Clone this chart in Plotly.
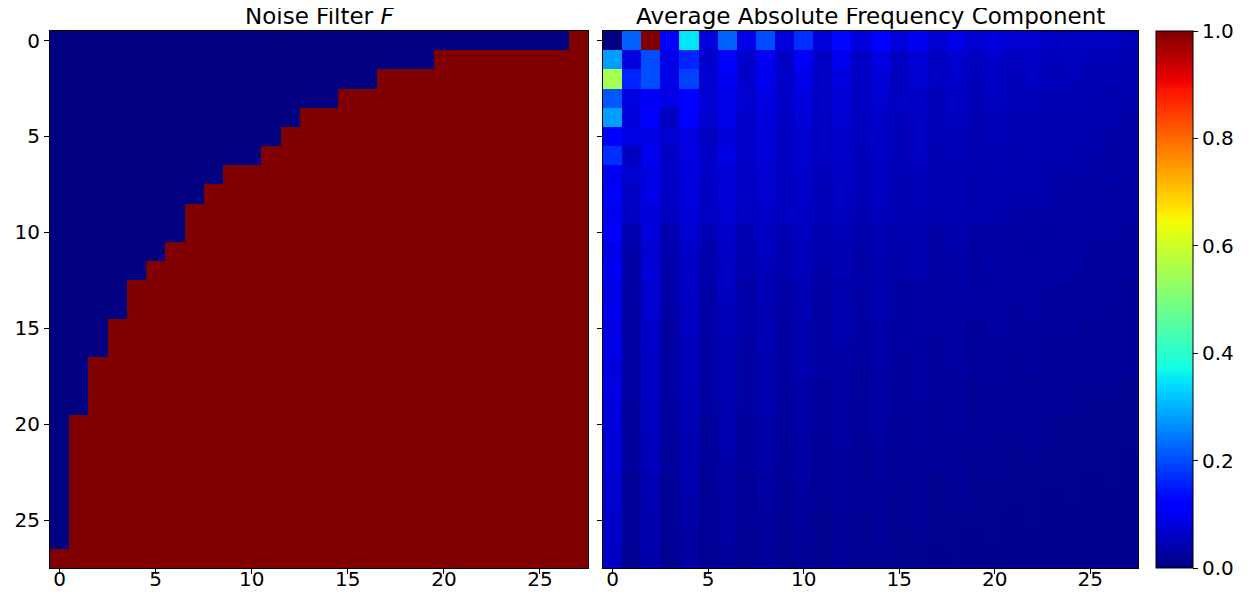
import numpy as np
import plotly.graph_objects as go

# first column where the noise filter switches to 1, one entry per row
filter_start = [27, 20, 17, 15, 13, 12, 11, 9, 8, 7, 7, 6, 5, 4,
                4, 3, 3, 2, 2, 2, 1, 1, 1, 1, 1, 1, 1, 0]

# average absolute frequency component, read row by row (28 x 28)
freq_rows = [
    [0.00, 0.22, 1.00, 0.12, 0.35, 0.08, 0.22, 0.09, 0.20, 0.08, 0.17, 0.08, 0.13, 0.08, 0.12, 0.08, 0.10, 0.07, 0.09, 0.07, 0.08, 0.07, 0.07, 0.06, 0.06, 0.06, 0.06, 0.05],
    [0.28, 0.08, 0.20, 0.09, 0.16, 0.065, 0.12, 0.065, 0.10, 0.06, 0.105, 0.06, 0.095, 0.06, 0.085, 0.06, 0.075, 0.055, 0.07, 0.055, 0.065, 0.055, 0.06, 0.05, 0.055, 0.05, 0.05, 0.045],
    [0.55, 0.16, 0.20, 0.09, 0.19, 0.07, 0.10, 0.065, 0.095, 0.065, 0.09, 0.06, 0.08, 0.06, 0.075, 0.055, 0.07, 0.055, 0.065, 0.05, 0.06, 0.05, 0.055, 0.05, 0.05, 0.045, 0.045, 0.04],
    [0.21, 0.085, 0.105, 0.085, 0.12, 0.07, 0.09, 0.07, 0.085, 0.065, 0.08, 0.06, 0.075, 0.06, 0.07, 0.055, 0.065, 0.05, 0.06, 0.05, 0.055, 0.05, 0.05, 0.045, 0.045, 0.045, 0.04, 0.04],
    [0.28, 0.08, 0.12, 0.055, 0.115, 0.07, 0.09, 0.065, 0.08, 0.06, 0.075, 0.055, 0.07, 0.055, 0.065, 0.05, 0.06, 0.05, 0.055, 0.045, 0.05, 0.045, 0.045, 0.04, 0.04, 0.04, 0.04, 0.035],
    [0.125, 0.085, 0.085, 0.07, 0.085, 0.055, 0.08, 0.065, 0.075, 0.06, 0.07, 0.055, 0.065, 0.055, 0.06, 0.05, 0.055, 0.05, 0.05, 0.045, 0.05, 0.045, 0.045, 0.04, 0.04, 0.04, 0.035, 0.035],
    [0.17, 0.055, 0.10, 0.06, 0.085, 0.065, 0.085, 0.065, 0.075, 0.06, 0.07, 0.055, 0.065, 0.05, 0.06, 0.05, 0.055, 0.045, 0.05, 0.045, 0.045, 0.04, 0.045, 0.04, 0.04, 0.035, 0.035, 0.035],
    [0.10, 0.07, 0.085, 0.065, 0.08, 0.065, 0.075, 0.06, 0.07, 0.055, 0.065, 0.05, 0.06, 0.05, 0.055, 0.045, 0.05, 0.045, 0.045, 0.04, 0.045, 0.04, 0.04, 0.035, 0.035, 0.035, 0.035, 0.03],
    [0.12, 0.055, 0.09, 0.06, 0.08, 0.06, 0.075, 0.06, 0.07, 0.055, 0.065, 0.05, 0.06, 0.05, 0.055, 0.045, 0.05, 0.045, 0.045, 0.04, 0.04, 0.04, 0.04, 0.035, 0.035, 0.035, 0.03, 0.03],
    [0.10, 0.06, 0.08, 0.06, 0.075, 0.06, 0.07, 0.055, 0.065, 0.055, 0.06, 0.05, 0.055, 0.045, 0.05, 0.045, 0.045, 0.04, 0.045, 0.04, 0.04, 0.035, 0.035, 0.035, 0.035, 0.03, 0.03, 0.03],
    [0.11, 0.04, 0.08, 0.04, 0.07, 0.045, 0.065, 0.045, 0.06, 0.045, 0.055, 0.04, 0.05, 0.04, 0.045, 0.04, 0.04, 0.035, 0.04, 0.035, 0.035, 0.03, 0.035, 0.03, 0.03, 0.03, 0.03, 0.025],
    [0.09, 0.035, 0.07, 0.04, 0.065, 0.04, 0.06, 0.04, 0.055, 0.04, 0.05, 0.04, 0.045, 0.035, 0.045, 0.035, 0.04, 0.035, 0.035, 0.03, 0.035, 0.03, 0.03, 0.03, 0.03, 0.025, 0.025, 0.025],
    [0.10, 0.035, 0.075, 0.035, 0.06, 0.04, 0.055, 0.04, 0.05, 0.04, 0.05, 0.035, 0.045, 0.035, 0.04, 0.035, 0.04, 0.03, 0.035, 0.03, 0.035, 0.03, 0.03, 0.03, 0.03, 0.025, 0.025, 0.025],
    [0.09, 0.035, 0.07, 0.035, 0.06, 0.035, 0.055, 0.035, 0.05, 0.035, 0.045, 0.035, 0.04, 0.035, 0.04, 0.03, 0.035, 0.03, 0.035, 0.03, 0.03, 0.03, 0.03, 0.025, 0.025, 0.025, 0.025, 0.02],
    [0.095, 0.03, 0.07, 0.035, 0.055, 0.035, 0.05, 0.035, 0.045, 0.035, 0.045, 0.03, 0.04, 0.03, 0.04, 0.03, 0.035, 0.03, 0.03, 0.03, 0.03, 0.025, 0.03, 0.025, 0.025, 0.025, 0.02, 0.02],
    [0.085, 0.03, 0.065, 0.03, 0.055, 0.035, 0.05, 0.035, 0.045, 0.03, 0.04, 0.03, 0.04, 0.03, 0.035, 0.03, 0.035, 0.03, 0.03, 0.025, 0.03, 0.025, 0.025, 0.025, 0.025, 0.02, 0.02, 0.02],
    [0.09, 0.03, 0.065, 0.03, 0.05, 0.03, 0.045, 0.03, 0.045, 0.03, 0.04, 0.03, 0.035, 0.03, 0.035, 0.03, 0.03, 0.025, 0.03, 0.025, 0.025, 0.025, 0.025, 0.02, 0.02, 0.02, 0.02, 0.02],
    [0.08, 0.03, 0.06, 0.03, 0.05, 0.03, 0.045, 0.03, 0.04, 0.03, 0.04, 0.03, 0.035, 0.025, 0.035, 0.025, 0.03, 0.025, 0.03, 0.025, 0.025, 0.02, 0.025, 0.02, 0.02, 0.02, 0.02, 0.02],
    [0.085, 0.03, 0.06, 0.03, 0.05, 0.03, 0.045, 0.03, 0.04, 0.03, 0.035, 0.025, 0.035, 0.025, 0.03, 0.025, 0.03, 0.025, 0.025, 0.02, 0.025, 0.02, 0.02, 0.02, 0.02, 0.02, 0.02, 0.015],
    [0.08, 0.025, 0.055, 0.025, 0.045, 0.03, 0.04, 0.03, 0.04, 0.025, 0.035, 0.025, 0.03, 0.025, 0.03, 0.025, 0.025, 0.02, 0.025, 0.02, 0.02, 0.02, 0.02, 0.02, 0.02, 0.015, 0.015, 0.015],
    [0.08, 0.025, 0.055, 0.025, 0.045, 0.025, 0.04, 0.025, 0.035, 0.025, 0.035, 0.025, 0.03, 0.025, 0.03, 0.02, 0.025, 0.02, 0.025, 0.02, 0.02, 0.02, 0.02, 0.015, 0.015, 0.015, 0.015, 0.015],
    [0.075, 0.025, 0.05, 0.025, 0.04, 0.025, 0.04, 0.025, 0.035, 0.025, 0.03, 0.02, 0.03, 0.02, 0.025, 0.02, 0.025, 0.02, 0.02, 0.02, 0.02, 0.015, 0.02, 0.015, 0.015, 0.015, 0.015, 0.015],
    [0.075, 0.025, 0.05, 0.025, 0.04, 0.025, 0.035, 0.025, 0.035, 0.02, 0.03, 0.02, 0.025, 0.02, 0.025, 0.02, 0.02, 0.02, 0.02, 0.015, 0.02, 0.015, 0.015, 0.015, 0.015, 0.015, 0.015, 0.01],
    [0.07, 0.02, 0.045, 0.02, 0.04, 0.02, 0.035, 0.02, 0.03, 0.02, 0.03, 0.02, 0.025, 0.02, 0.025, 0.02, 0.02, 0.015, 0.02, 0.015, 0.015, 0.015, 0.015, 0.015, 0.015, 0.01, 0.015, 0.01],
    [0.07, 0.02, 0.045, 0.02, 0.035, 0.02, 0.03, 0.02, 0.03, 0.02, 0.025, 0.02, 0.025, 0.02, 0.02, 0.015, 0.02, 0.015, 0.02, 0.015, 0.015, 0.015, 0.015, 0.01, 0.015, 0.01, 0.01, 0.01],
    [0.065, 0.02, 0.04, 0.02, 0.035, 0.02, 0.03, 0.02, 0.025, 0.02, 0.025, 0.015, 0.02, 0.015, 0.02, 0.015, 0.02, 0.015, 0.015, 0.015, 0.015, 0.01, 0.015, 0.01, 0.01, 0.01, 0.01, 0.01],
    [0.065, 0.02, 0.04, 0.02, 0.03, 0.02, 0.03, 0.015, 0.025, 0.015, 0.02, 0.015, 0.02, 0.015, 0.02, 0.015, 0.015, 0.015, 0.015, 0.01, 0.015, 0.01, 0.01, 0.01, 0.01, 0.01, 0.01, 0.01],
    [0.06, 0.015, 0.035, 0.015, 0.03, 0.015, 0.025, 0.015, 0.025, 0.015, 0.02, 0.015, 0.02, 0.015, 0.015, 0.015, 0.015, 0.01, 0.015, 0.01, 0.01, 0.01, 0.01, 0.01, 0.01, 0.01, 0.01, 0.01],
]

n = len(filter_start)
idx = list(range(n))
noise_filter = [[1 if j >= filter_start[i] else 0 for j in idx] for i in idx]

# matplotlib "jet" colormap as a plotly colorscale
stops = [0, 0.11, 0.125, 0.34, 0.35, 0.375, 0.64, 0.65, 0.66, 0.89, 0.91, 1]
red = np.interp(stops, [0, 0.35, 0.66, 0.89, 1], [0, 0, 1, 1, 0.5])
green = np.interp(stops, [0, 0.125, 0.375, 0.64, 0.91, 1], [0, 0, 1, 1, 0, 0])
blue = np.interp(stops, [0, 0.11, 0.34, 0.65, 1], [0.5, 1, 1, 0, 0])
jet = [[s, f"rgb({r*255:.0f},{g*255:.0f},{b*255:.0f})"] for s, r, g, b in zip(stops, red, green, blue)]

# the page body has an 8px margin, so the figure is laid out in page pixels minus 8
PAD = 8
W, H = 1250 - 2 * PAD, 602 - 2 * PAD
def fx(px):
    return (px - PAD) / W
def fy(py):
    return 1 - (py - PAD) / H

top, bottom = 31, 568
tick_font = dict(family="DejaVu Sans", size=20, color="black")
title_font = dict(family="DejaVu Sans", size=23, color="black")

fig = go.Figure()
fig.add_trace(go.Heatmap(z=noise_filter, x=idx, y=idx, colorscale=jet, zmin=0, zmax=1,
                         showscale=False, xaxis="x", yaxis="y"))
fig.add_trace(go.Heatmap(z=freq_rows, x=idx, y=idx, colorscale=jet, zmin=0, zmax=1,
                         xaxis="x2", yaxis="y2",
                         colorbar=dict(x=fx(1156), xanchor="left", xpad=0, ypad=0,
                                       thickness=37, thicknessmode="pixels",
                                       len=(bottom - top) / H, lenmode="fraction",
                                       y=fy(bottom), yanchor="bottom",
                                       outlinewidth=1, outlinecolor="black",
                                       tickvals=[0, 0.2, 0.4, 0.6, 0.8, 1.0], tickformat=".1f",
                                       ticks="outside", ticklen=5, tickcolor="black",
                                       tickfont=tick_font)))

ticks = [0, 5, 10, 15, 20, 25]
axis_common = dict(range=[-0.5, 27.5], tickvals=ticks, ticks="outside", ticklen=5, tickcolor="black",
                   showline=True, linecolor="black", linewidth=1, mirror=True, automargin=False,
                   showgrid=False, zeroline=False, tickfont=tick_font)
xaxis_common = dict(axis_common, ticklabelstandoff=-12)
yaxis_common = dict(axis_common, range=[27.5, -0.5])

fig.update_layout(
    width=W, height=H,
    margin=dict(l=0, r=0, t=0, b=0),
    paper_bgcolor="white", plot_bgcolor="white",
    font=tick_font,
    xaxis=dict(xaxis_common, domain=[fx(50), fx(588)], anchor="y"),
    yaxis=dict(yaxis_common, domain=[fy(bottom), fy(top)], anchor="x"),
    xaxis2=dict(xaxis_common, domain=[fx(603), fx(1138)], anchor="y2"),
    yaxis2=dict(yaxis_common, domain=[fy(bottom), fy(top)], anchor="x2", showticklabels=False),
    annotations=[
        dict(text="Noise Filter <i>F</i>", x=fx(319), y=fy(16), xref="paper", yref="paper",
             showarrow=False, font=title_font, xanchor="center", yanchor="middle"),
        dict(text="Average Absolute Frequency Component", x=fx(870), y=fy(16), xref="paper",
             yref="paper", showarrow=False, font=title_font, xanchor="center", yanchor="middle"),
    ],
)

fig.write_html("out.html")
